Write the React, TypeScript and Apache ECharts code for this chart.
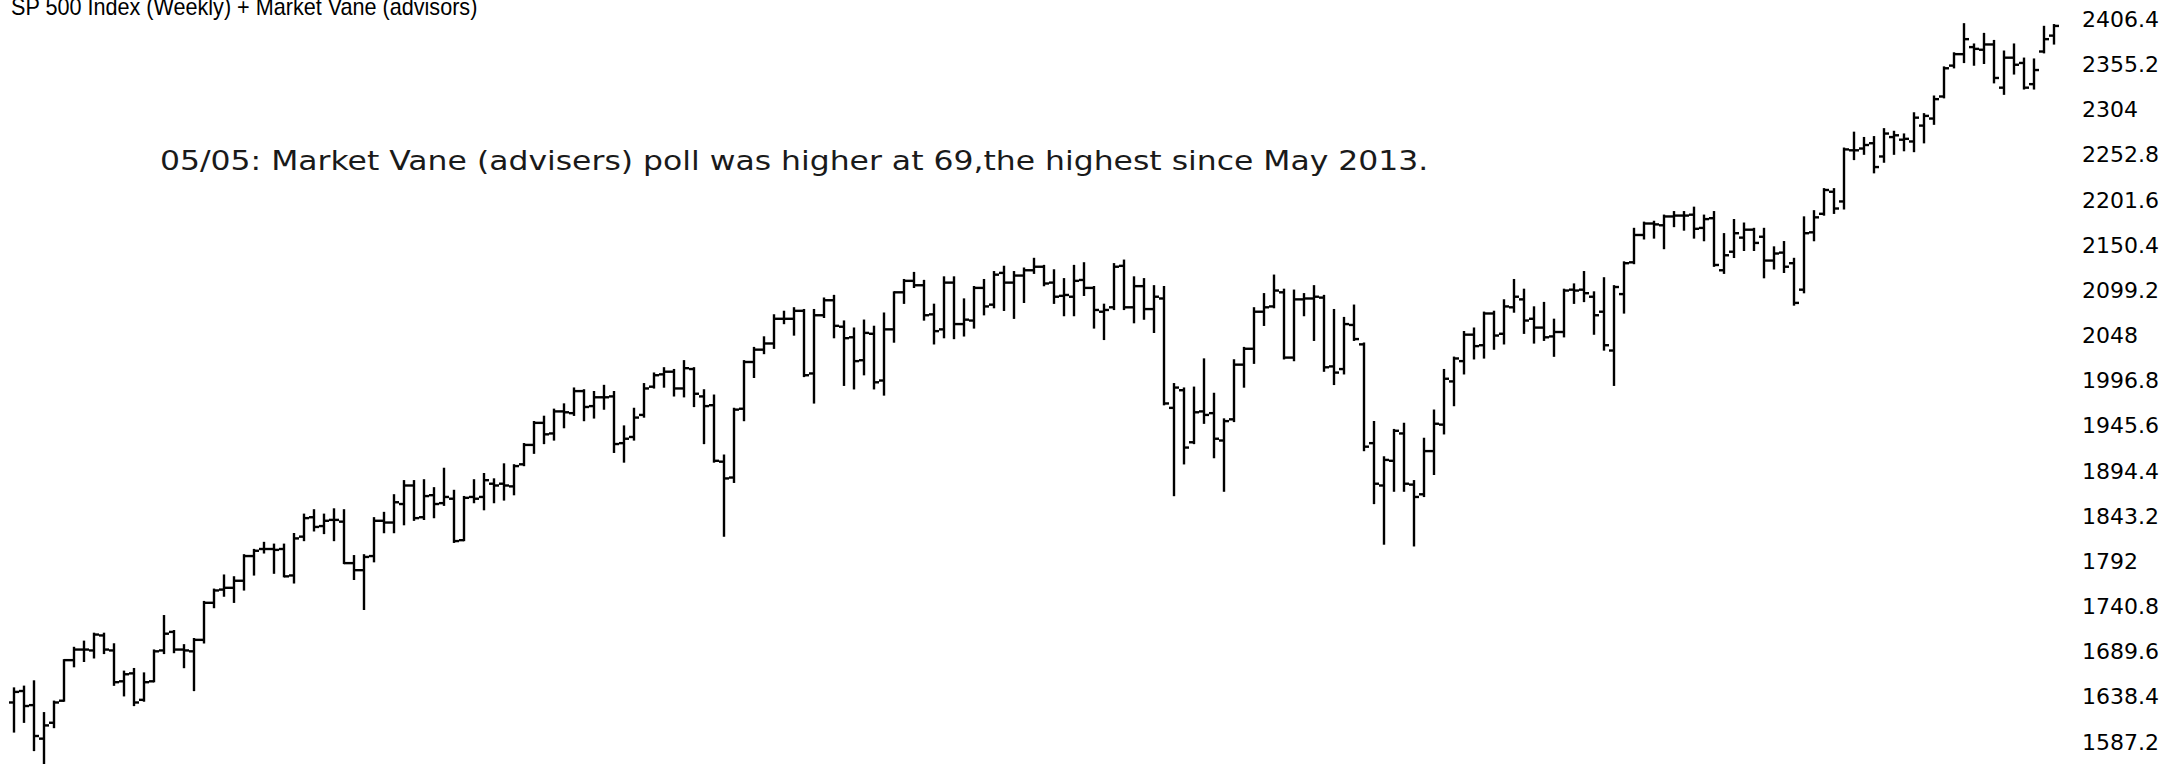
import React, { useEffect, useRef } from "react";
import * as echarts from "echarts";

// Weekly S&P 500 bars, week of 2013-06-03 through week of 2017-05-01
const startWeek = "2013-06-03";

const opens = [
  1632, 1645, 1629, 1591, 1609, 1634, 1680, 1692, 1691, 1708, 1691, 1656, 1665, 1635, 1656, 1691, 1712, 1692, 1690, 1703,
  1745, 1760, 1762, 1770, 1798, 1806, 1806, 1806, 1776, 1820, 1842, 1832, 1839, 1837, 1790, 1782, 1798, 1838, 1836, 1857,
  1878, 1842, 1867, 1858, 1863, 1816, 1865, 1865, 1880, 1880, 1877, 1902, 1924, 1949, 1937, 1962, 1960, 1985, 1968, 1978,
  1979, 1926, 1933, 1958, 1990, 2004, 2007, 1988, 2010, 1979, 1969, 1905, 1887, 1965, 2018, 2032, 2039, 2067, 2067, 2076,
  2005, 2071, 2088, 2058, 2046, 2020, 2050, 1997, 2055, 2097, 2110, 2105, 2072, 2055, 2108, 2061, 2065, 2102, 2083, 2119,
  2108, 2116, 2122, 2126, 2108, 2093, 2092, 2111, 2102, 2075, 2080, 2127, 2080, 2104, 2078, 2090, 1966, 1986, 1927, 1962,
  1960, 1929, 1953, 2015, 2033, 2075, 2081, 2097, 2023, 2089, 2090, 2091, 2013, 2010, 2060, 2038, 1926, 1878, 1906, 1937,
  1879, 1868, 1917, 1947, 1996, 2019, 2049, 2037, 2073, 2050, 2080, 2089, 2067, 2057, 2047, 2052, 2100, 2100, 2092, 2075,
  2031, 2095, 2131, 2162, 2175, 2173, 2183, 2184, 2185, 2170, 2181, 2122, 2143, 2159, 2168, 2160, 2133, 2142, 2130, 2100,
  2165, 2186, 2211, 2200, 2258, 2260, 2266, 2251, 2273, 2270, 2268, 2286, 2294, 2319, 2354, 2367, 2375, 2372, 2378, 2329,
  2363, 2357, 2333, 2370, 2388,
];

const highs = [
  1648, 1650, 1656, 1620, 1633, 1680, 1694, 1701, 1710, 1710, 1698, 1667, 1670, 1665, 1691, 1730, 1713, 1697, 1704, 1746,
  1760, 1776, 1774, 1799, 1805, 1813, 1811, 1811, 1823, 1845, 1850, 1845, 1851, 1850, 1798, 1799, 1841, 1847, 1867, 1883,
  1883, 1884, 1875, 1897, 1872, 1865, 1884, 1891, 1885, 1902, 1901, 1925, 1950, 1956, 1964, 1970, 1988, 1986, 1984, 1991,
  1984, 1945, 1965, 1993, 2005, 2011, 2009, 2019, 2011, 1986, 1980, 1912, 1965, 2019, 2034, 2046, 2071, 2075, 2079, 2077,
  2077, 2090, 2093, 2064, 2056, 2065, 2058, 2073, 2097, 2111, 2119, 2110, 2083, 2114, 2114, 2089, 2103, 2111, 2120, 2126,
  2120, 2124, 2135, 2127, 2122, 2112, 2127, 2130, 2103, 2083, 2129, 2133, 2114, 2112, 2104, 2103, 1993, 1988, 1989, 2021,
  1982, 1953, 2020, 2034, 2079, 2095, 2116, 2100, 2099, 2095, 2104, 2093, 2077, 2068, 2082, 2039, 1950, 1910, 1941, 1948,
  1883, 1931, 1963, 2009, 2023, 2052, 2056, 2074, 2075, 2088, 2111, 2100, 2080, 2085, 2066, 2100, 2106, 2120, 2097, 2113,
  2104, 2131, 2169, 2176, 2177, 2184, 2188, 2188, 2193, 2184, 2188, 2163, 2179, 2175, 2169, 2169, 2148, 2154, 2135, 2182,
  2189, 2214, 2214, 2260, 2278, 2272, 2273, 2282, 2279, 2276, 2300, 2299, 2319, 2352, 2368, 2401, 2378, 2390, 2382, 2370,
  2378, 2362, 2361, 2398, 2400,
];

const lows = [
  1599, 1610, 1578, 1560, 1604, 1634, 1673, 1679, 1683, 1688, 1652, 1640, 1629, 1634, 1656, 1688, 1689, 1672, 1646, 1700,
  1740, 1753, 1746, 1760, 1777, 1802, 1779, 1775, 1768, 1816, 1827, 1824, 1816, 1790, 1772, 1738, 1792, 1825, 1825, 1834,
  1839, 1840, 1842, 1856, 1814, 1816, 1859, 1851, 1859, 1862, 1868, 1901, 1915, 1926, 1930, 1944, 1958, 1952, 1955, 1965,
  1916, 1905, 1930, 1956, 1989, 1990, 1980, 1979, 1968, 1926, 1905, 1821, 1882, 1952, 2001, 2028, 2034, 2062, 2049, 2002,
  1972, 2069, 2046, 1992, 1988, 2004, 1988, 1981, 2041, 2085, 2103, 2066, 2039, 2046, 2045, 2048, 2057, 2072, 2080, 2077,
  2068, 2086, 2119, 2105, 2085, 2071, 2071, 2094, 2057, 2044, 2078, 2078, 2063, 2067, 2052, 1970, 1867, 1903, 1926, 1949,
  1910, 1872, 1951, 1990, 2017, 2060, 2080, 2022, 2020, 2071, 2043, 2008, 1993, 2005, 2043, 1918, 1858, 1812, 1872, 1872,
  1810, 1866, 1891, 1937, 1969, 2005, 2022, 2023, 2033, 2039, 2075, 2051, 2040, 2043, 2025, 2047, 2085, 2087, 2050, 2032,
  1992, 2074, 2130, 2158, 2159, 2147, 2172, 2168, 2159, 2156, 2127, 2119, 2137, 2145, 2145, 2114, 2124, 2120, 2083, 2097,
  2156, 2185, 2187, 2192, 2248, 2254, 2233, 2245, 2254, 2258, 2257, 2267, 2288, 2318, 2352, 2358, 2355, 2357, 2335, 2322,
  2345, 2328, 2328, 2369, 2379,
];

const closes = [
  1644, 1628, 1594, 1606, 1632, 1680, 1692, 1692, 1709, 1692, 1655, 1664, 1632, 1655, 1690, 1710, 1692, 1691, 1703, 1745,
  1759, 1762, 1770, 1798, 1804, 1806, 1805, 1775, 1818, 1841, 1831, 1838, 1839, 1790, 1782, 1797, 1838, 1836, 1859, 1878,
  1841, 1866, 1857, 1865, 1815, 1864, 1863, 1884, 1878, 1878, 1900, 1924, 1949, 1936, 1962, 1961, 1985, 1967, 1978, 1978,
  1925, 1931, 1955, 1988, 2003, 2007, 1988, 2011, 1982, 1968, 1906, 1886, 1964, 2018, 2032, 2039, 2067, 2067, 2076, 2003,
  2071, 2088, 2059, 2045, 2019, 2051, 1995, 2055, 2097, 2110, 2105, 2071, 2053, 2108, 2061, 2066, 2102, 2081, 2117, 2108,
  2116, 2122, 2126, 2107, 2092, 2094, 2110, 2102, 2077, 2077, 2126, 2080, 2104, 2078, 2092, 1971, 1989, 1921, 1961, 1958,
  1931, 1951, 2015, 2033, 2075, 2080, 2099, 2023, 2089, 2090, 2092, 2012, 2006, 2061, 2044, 1922, 1880, 1907, 1940, 1880,
  1865, 1917, 1948, 1999, 2022, 2049, 2036, 2073, 2048, 2081, 2092, 2065, 2057, 2046, 2052, 2099, 2099, 2096, 2071, 2037,
  2103, 2130, 2162, 2175, 2174, 2183, 2184, 2184, 2169, 2180, 2128, 2139, 2164, 2168, 2153, 2133, 2141, 2126, 2085, 2164,
  2182, 2213, 2192, 2259, 2258, 2264, 2239, 2277, 2275, 2271, 2295, 2297, 2316, 2351, 2367, 2384, 2373, 2378, 2340, 2363,
  2355, 2329, 2349, 2384, 2399,
];

const yMin = 1587.2;
const yMax = 2406.4;
const yStep = 51.2;

const titleText = "SP 500 Index (Weekly) + Market Vane (advisors)";
const noteText = "05/05: Market Vane (advisers) poll was higher at 69,the highest since May 2013.";

function buildWeeks(start: string, n: number): string[] {
  const out: string[] = [];
  const d0 = new Date(start + "T00:00:00Z").getTime();
  for (let i = 0; i < n; i++) {
    out.push(new Date(d0 + i * 7 * 86400000).toISOString().slice(0, 10));
  }
  return out;
}

export default function App() {
  const ref = useRef<HTMLDivElement>(null);

  useEffect(() => {
    if (!ref.current) return;
    const chart = echarts.init(ref.current, null, { renderer: "svg" });
    const weeks = buildWeeks(startWeek, closes.length);
    const data = closes.map((c, i) => [i, opens[i], highs[i], lows[i], c]);
    const stroke = "#000";

    chart.setOption({
      animation: false,
      backgroundColor: "#ffffff",
      grid: { left: 9, right: 116, top: 19.4, bottom: 22, containLabel: false },
      xAxis: {
        type: "category",
        data: weeks,
        boundaryGap: true,
        show: false,
      },
      yAxis: {
        type: "value",
        position: "right",
        min: yMin,
        max: yMax,
        interval: yStep,
        axisLine: { show: false },
        axisTick: { show: false },
        splitLine: { show: false },
        axisLabel: {
          margin: 23,
          fontSize: 22,
          fontFamily: "DejaVu Sans",
          color: "#000",
          formatter: (v: number) => String(Math.round(v * 10) / 10),
        },
      },
      series: [
        {
          type: "custom",
          data,
          encode: { x: 0, y: [1, 2, 3, 4] },
          clip: false,
          renderItem: (params: any, api: any) => {
            const idx = api.value(0);
            const x = api.coord([idx, api.value(1)])[0];
            const yo = api.coord([idx, api.value(1)])[1];
            const yh = api.coord([idx, api.value(2)])[1];
            const yl = api.coord([idx, api.value(3)])[1];
            const yc = api.coord([idx, api.value(4)])[1];
            const st = { stroke, lineWidth: 2.4 };
            return {
              type: "group",
              children: [
                { type: "line", shape: { x1: x, y1: yh - 1, x2: x, y2: yl + 1 }, style: st },
                { type: "line", shape: { x1: x - 5, y1: yo, x2: x, y2: yo }, style: st },
                { type: "line", shape: { x1: x, y1: yc, x2: x + 5, y2: yc }, style: st },
              ],
            };
          },
        },
      ],
      graphic: [
        {
          type: "text",
          x: 11,
          y: 19,
          scaleX: 0.9,
          style: {
            text: titleText,
            fontFamily: "Liberation Sans",
            fontSize: 24,
            fill: "#000",
            verticalAlign: "bottom",
            align: "left",
          },
        },
        {
          type: "text",
          x: 160,
          y: 161,
          scaleX: 1.21,
          style: {
            text: noteText,
            fontFamily: "DejaVu Sans",
            fontSize: 26,
            fill: "#1a1a1a",
            verticalAlign: "middle",
            align: "left",
          },
        },
      ],
    });

    return () => chart.dispose();
  }, []);

  return (
    <div
      ref={ref}
      style={{ position: "absolute", left: 0, top: 0, width: 2175, height: 764 }}
    />
  );
}
